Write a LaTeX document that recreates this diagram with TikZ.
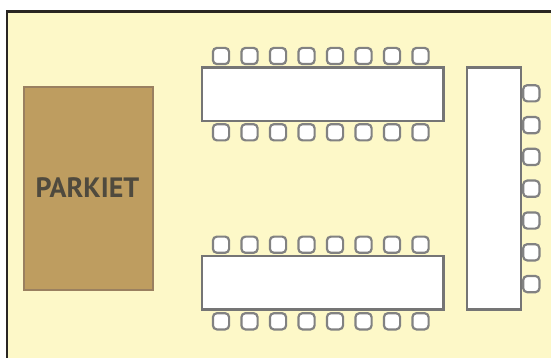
\documentclass[tikz,border=0pt]{standalone}
\usepackage{fontspec}
\setmainfont{PT Sans}
\definecolor{roomfill}{HTML}{FDF8C8}
\definecolor{roomline}{HTML}{2A2622}
\definecolor{floorfill}{HTML}{BE9D60}
\definecolor{floorline}{HTML}{9A8060}
\definecolor{tableline}{HTML}{757575}
\definecolor{chairline}{HTML}{828282}
\definecolor{labelcol}{HTML}{4F4A3E}
\tikzset{
  tablebox/.style={draw=tableline,line width=2.3pt,fill=white,inner sep=0pt,outer sep=0pt,minimum width=#1},
  chairbox/.style={draw=chairline,line width=2.2pt,fill=white,rounded corners=4pt,inner sep=0pt,outer sep=0pt,minimum width=16.2pt,minimum height=16.2pt},
}
\begin{document}
\begin{tikzpicture}[x=1pt,y=-1pt]
\useasboundingbox (0,0) rectangle (551,358);
\fill[white] (0,0) rectangle (551,358);
\fill[roomfill] (7,11.5) rectangle (551,358);
\draw[roomline,line width=2.6pt] (7,358) -- (7,11.5) -- (551,11.5);
\node[draw=floorline,line width=2.2pt,fill=floorfill,minimum width=129pt,minimum height=203pt,inner sep=0pt,outer sep=0pt] (floor) at (88.5,188.5) {};
\node[text=labelcol,font=\fontsize{28}{28}\selectfont\bfseries,inner sep=0pt] (floorlabel) at (87.5,187.5) {PARKIET};
\foreach \n/\yy in {a/94.2,b/282.8}
  \node[tablebox=241.5pt,minimum height=53.5pt] (table\n) at (322.7,\yy) {};
\node[tablebox=54pt,minimum height=242pt] (tablec) at (494,188.5) {};
\foreach \n/\yy in {a/56,b/132.3,c/244.7,d/321.3}
  \foreach \i in {0,...,7}
    \node[chairbox] (chair\n\i) at ({221+28.5*\i},\yy) {};
\foreach \i in {0,...,6}
  \node[chairbox] (chaire\i) at (531.3,{93.3+31.8*\i}) {};
\end{tikzpicture}
\end{document}
